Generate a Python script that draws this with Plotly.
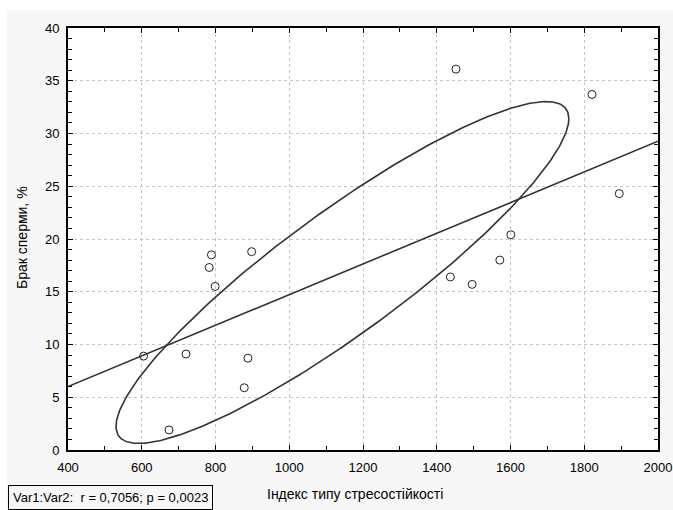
import numpy as np
import plotly.graph_objects as go

# ---- data ----
stress_index = [605, 720, 888, 878, 674, 789, 783, 799, 898,
                1452, 1821, 1895, 1601, 1571, 1437, 1496]
sperm_defect = [8.9, 9.1, 8.7, 5.9, 1.9, 18.5, 17.3, 15.5, 18.8,
                36.1, 33.7, 24.3, 20.4, 18.0, 16.4, 15.7]

x_tick_vals = [400, 600, 800, 1000, 1200, 1400, 1600, 1800, 2000]
y_tick_vals = [0, 5, 10, 15, 20, 25, 30, 35, 40]

x_title = "Індекс типу стресостійкості"
y_title = "Брак сперми, %"
stats_text = "Var1:Var2:&nbsp; r = 0,7056; p = 0,0023"

# ellipse shape parameters (data units)
ellipse_half_width = 614.0
ellipse_half_height = 16.2
ellipse_shape_cos = 0.90

# ---- derived curves ----
xa = np.array(stress_index, dtype=float)
ya = np.array(sperm_defect, dtype=float)
slope, intercept = np.polyfit(xa, ya, 1)
line_x = np.array([400.0, 2000.0])
line_y = intercept + slope * line_x

cx, cy = xa.mean(), ya.mean()
t = np.linspace(0, 2 * np.pi, 361)
delta = np.arccos(ellipse_shape_cos)
ell_x = cx + ellipse_half_width * np.cos(t)
ell_y = cy + ellipse_half_height * np.cos(t - delta)

fig = go.Figure()
fig.add_trace(go.Scatter(x=ell_x, y=ell_y, mode="lines",
                         line=dict(color="#333333", width=1.6),
                         hoverinfo="skip", showlegend=False))
fig.add_trace(go.Scatter(x=line_x, y=line_y, mode="lines",
                         line=dict(color="#333333", width=1.6),
                         hoverinfo="skip", showlegend=False))
fig.add_trace(go.Scatter(x=stress_index, y=sperm_defect, mode="markers",
                         marker=dict(symbol="circle-open", size=8,
                                     color="#222222", line=dict(width=1)),
                         showlegend=False))

FONT = "Liberation Sans, Arial, sans-serif"
axis_common = dict(
    showline=True, linecolor="black", linewidth=2, mirror="ticks",
    ticks="inside", ticklen=5, tickwidth=1, tickcolor="black",
    showgrid=True, gridcolor="#c4c4c4", griddash="dot", gridwidth=1,
    zeroline=False, automargin=False,
    tickfont=dict(family=FONT, size=13, color="black"),
)

fig.update_xaxes(range=[400, 2000], tickvals=x_tick_vals,
                 ticklabelstandoff=4,
                 minor=dict(dtick=100, ticks="inside", ticklen=4,
                            tickcolor="black", showgrid=False),
                 **axis_common)
fig.update_yaxes(range=[0, 40], tickvals=y_tick_vals,
                 ticklabelstandoff=4,
                 minor=dict(dtick=1, ticks="inside", ticklen=4,
                            tickcolor="black", showgrid=False),
                 **axis_common)

W, H = 673, 510
L, R, T, B = 68, 15, 28, 60
pw, ph = W - L - R, H - T - B


def px(xp):
    return (xp - L) / pw


def py(yp):
    return (H - B - yp) / ph


fig.update_layout(
    width=W, height=H,
    margin=dict(l=L, r=R, t=T, b=B, pad=0, autoexpand=False),
    paper_bgcolor="#f7f7f7", plot_bgcolor="white",
    font=dict(family=FONT, size=13, color="black"),
    shapes=[
        dict(type="rect", xref="paper", yref="paper", layer="below",
             x0=px(0), x1=px(7), y0=py(H), y1=py(0),
             fillcolor="white", line=dict(width=0)),
        dict(type="rect", xref="paper", yref="paper", layer="below",
             x0=px(0), x1=px(W), y0=py(10), y1=py(0),
             fillcolor="white", line=dict(width=0)),
    ],
    annotations=[
        dict(text=y_title, xref="paper", yref="paper",
             x=px(22), y=py(238), xanchor="center", yanchor="middle",
             textangle=-90, showarrow=False,
             font=dict(family=FONT, size=14, color="black")),
        dict(text=x_title, xref="paper", yref="paper",
             x=px(355), y=py(494), xanchor="center", yanchor="middle",
             showarrow=False,
             font=dict(family=FONT, size=14, color="black")),
        dict(text=stats_text, xref="paper", yref="paper",
             x=px(8), y=py(497), xanchor="left", yanchor="middle",
             showarrow=False, bordercolor="black", borderwidth=1,
             borderpad=4, bgcolor="#f7f7f7",
             font=dict(family=FONT, size=13, color="black")),
    ],
)

fig.write_html("out.html",
               config=dict(displayModeBar=False),
               post_script="document.body.style.margin='0px';"
                           "document.body.style.overflow='hidden';")
